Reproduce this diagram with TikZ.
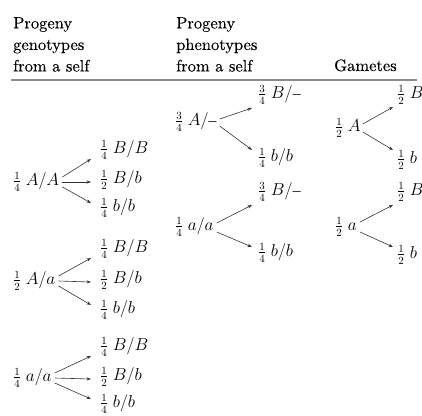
\documentclass[tikz,border=0pt]{standalone}
\usepackage{amsmath}
\usepackage{fontspec}
\setmainfont{lmroman10-regular.otf}[FakeBold=0.25]
\usetikzlibrary{arrows.meta,calc}
\begin{document}
\begin{tikzpicture}[x=1pt,y=-1pt,
  lbl/.style={inner sep=0pt,anchor=west,font=\fontsize{16}{21}\selectfont},
  hdr/.style={inner sep=0pt,font=\fontsize{16.5}{21.5}\selectfont,align=left},
  arr/.style={draw=black!80,line width=0.6pt,-{Stealth[length=4.5pt,width=3.2pt]}}]
\useasboundingbox (0,0) rectangle (422,415);
% headers
\node[hdr,anchor=north west] (h1) at (13,17) {Progeny\\genotypes\\from a self};
\node[hdr,anchor=north west] (h2) at (176,17) {Progeny\\phenotypes\\from a self};
\node[hdr,anchor=base west] (h3) at (334,71) {Gametes};
\draw[black!45,line width=1.5pt] (11,80) -- (417,80);
% left column: genotypes
\foreach \s/\txt/\y/\ya/\yb/\yc in {a/{$\tfrac{1}{4}\;A/A$}/182/150/180/208,
                                   b/{$\tfrac{1}{2}\;A/a$}/281/249/280/310,
                                   c/{$\tfrac{1}{4}\;a/a$}/378/347/377/404}{
  \node[lbl] (G\s) at (13,\y) {\txt};
  \node[lbl] (G\s1) at (100,\ya) {$\tfrac{1}{4}\;B/B$};
  \node[lbl] (G\s2) at (100,\yb) {$\tfrac{1}{2}\;B/b$};
  \node[lbl] (G\s3) at (100,\yc) {$\tfrac{1}{4}\;b/b$};
  \draw[arr] ($(G\s.east)+(3,-5)$) -- ($(G\s1.west)+(-9,9)$);
  \draw[arr] ($(G\s.east)+(3,0)$) -- ($(G\s2.west)+(-9,2)$);
  \draw[arr] ($(G\s.east)+(3,5)$) -- ($(G\s3.west)+(-9,-5)$);
}
% middle column: phenotypes
\node[lbl] (P1) at (175,122) {$\tfrac{3}{4}\;A/$\textendash};
\node[lbl] (Q1) at (258,95) {$\tfrac{3}{4}\;B/$\textendash};
\node[lbl] (Q2) at (258,158) {$\tfrac{1}{4}\;b/b$};
\draw[arr] ($(P1.east)+(3,-3)$) -- ($(Q1.west)+(-6,13)$);
\draw[arr] ($(P1.east)+(3,4)$) -- ($(Q2.west)+(-6,-8)$);
\node[lbl] (P2) at (175,227) {$\tfrac{1}{4}\;a/a$};
\node[lbl] (Q3) at (258,192) {$\tfrac{3}{4}\;B/$\textendash};
\node[lbl] (Q4) at (258,253) {$\tfrac{1}{4}\;b/b$};
\draw[arr] ($(P2.east)+(3,-4)$) -- ($(Q3.west)+(-6,13)$);
\draw[arr] ($(P2.east)+(3,5)$) -- ($(Q4.west)+(-6,-6)$);
% right column: gametes
\node[lbl] (M1) at (335,128) {$\tfrac{1}{2}\;A$};
\node[lbl] (R1) at (397,95) {$\tfrac{1}{2}\;B$};
\node[lbl] (R2) at (397,160) {$\tfrac{1}{2}\;b$};
\draw[arr] ($(M1.east)+(2,-4)$) -- ($(R1.west)+(-4,12)$);
\draw[arr] ($(M1.east)+(2,4)$) -- ($(R2.west)+(-4,-10)$);
\node[lbl] (M2) at (335,227) {$\tfrac{1}{2}\;a$};
\node[lbl] (R3) at (397,192) {$\tfrac{1}{2}\;B$};
\node[lbl] (R4) at (397,255) {$\tfrac{1}{2}\;b$};
\draw[arr] ($(M2.east)+(3,-5)$) -- ($(R3.west)+(-4,13)$);
\draw[arr] ($(M2.east)+(3,5)$) -- ($(R4.west)+(-4,-8)$);
\end{tikzpicture}
\end{document}
